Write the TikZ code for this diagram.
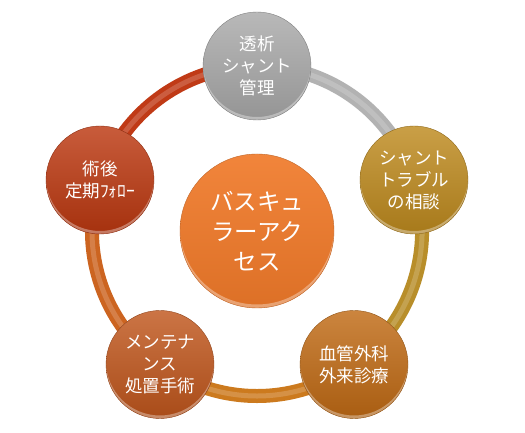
\documentclass[tikz,border=0pt]{standalone}
\usepackage{fontspec}
\newfontfamily\jp{Noto Sans CJK JP}
\usetikzlibrary{calc}
\pgfdeclarelayer{bg}
\pgfsetlayers{bg,main}
\definecolor{cgray}{HTML}{A9A9A9}
\definecolor{cgold}{HTML}{BE8A1E}
\definecolor{cbrown}{HTML}{C06A14}
\definecolor{cbl}{HTML}{C0561C}
\definecolor{cred}{HTML}{BC3810}
\definecolor{corange}{HTML}{F07A2A}
\definecolor{rred}{HTML}{C03A16}
\definecolor{rgray}{HTML}{B2B2B2}
\definecolor{rgold}{HTML}{B88E2A}
\definecolor{rorange}{HTML}{CC7A1E}
\definecolor{rbl}{HTML}{CC6420}
\tikzset{
  ball/.style={circle, minimum size=108pt, inner sep=0pt, align=center, text=white,
    font=\jp\fontsize{17.5}{22}\selectfont,
    top color=#1!82!white, bottom color=#1!88!black, draw=#1!75!black, line width=0.4pt,
    path picture={\fill[white,opacity=.35,even odd rule]
      (path picture bounding box.center) circle[radius=54pt]
      ($(path picture bounding box.center)+(0,3pt)$) circle[radius=54pt];}},
  bigball/.style={circle, minimum size=154pt, inner sep=0pt, align=center, text=white,
    font=\jp\fontsize{23.5}{30}\selectfont,
    top color=#1!92!white, bottom color=#1!92!black, draw=#1!80!black, line width=0.4pt,
    path picture={\fill[white,opacity=.35,even odd rule]
      (path picture bounding box.center) circle[radius=77pt]
      ($(path picture bounding box.center)+(0,3.5pt)$) circle[radius=77pt];}},
  ringseg/.style={line width=14pt, draw=#1},
  ringhi/.style={line width=5pt, draw=white, opacity=.18},
}
\begin{document}
\begin{tikzpicture}[x=1pt,y=1pt]
\useasboundingbox (0,0) rectangle (525,433);
\node[bigball=corange] (C) at (257,202) {バスキュ\\ラーアク\\セス};
\node[ball=cgray]  (T)  at (257,367) {透析\\シャント\\管理};
\node[ball=cgold]  (R)  at (414,253) {シャント\\トラブル\\の相談};
\node[ball=cbrown] (BR) at (354,68.5) {血管外科\\外来診療};
\node[ball=cbl]    (BL) at (160,68.5) {メンテナ\\ンス\\処置手術};
\node[ball=cred]   (L)  at (100,253) {術後\\定期ﾌｫﾛｰ};
\begin{pgfonlayer}{bg}
\fill[white] (0,0) rectangle (525,433);
\draw[ringseg=rred]    (L.center)  arc[start angle=162, end angle=90,  radius=165pt];
\draw[ringseg=rgray]   (T.center)  arc[start angle=90,  end angle=18,  radius=165pt];
\draw[ringseg=rgold]   (R.center)  arc[start angle=18,  end angle=-54, radius=165pt];
\draw[ringseg=rorange] (BR.center) arc[start angle=-54, end angle=-126,radius=165pt];
\draw[ringseg=rbl]     (BL.center) arc[start angle=234, end angle=162, radius=165pt];
\draw[ringhi] (L.center)  arc[start angle=162, end angle=90,  radius=165pt];
\draw[ringhi] (T.center)  arc[start angle=90,  end angle=18,  radius=165pt];
\draw[ringhi] (R.center)  arc[start angle=18,  end angle=-54, radius=165pt];
\draw[ringhi] (BR.center) arc[start angle=-54, end angle=-126,radius=165pt];
\draw[ringhi] (BL.center) arc[start angle=234, end angle=162, radius=165pt];
\end{pgfonlayer}
\end{tikzpicture}
\end{document}
